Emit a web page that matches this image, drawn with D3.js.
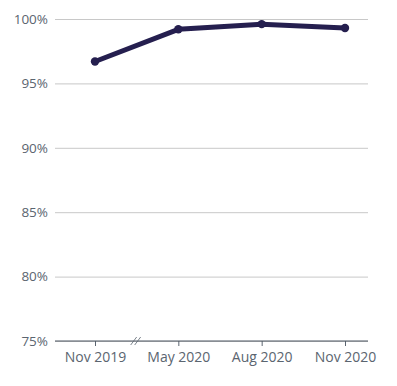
<!DOCTYPE html>
<html><head><meta charset="utf-8">
<script src="https://cdn.jsdelivr.net/npm/d3@7"></script>
<style>body{margin:0;background:#fff}svg{display:block}text{font-family:"Open Sans",sans-serif}</style>
</head><body><svg id="c" width="397" height="386"></svg>
<script>
const categories = ["Nov 2019","May 2020","Aug 2020","Nov 2020"];
const values = [96.7, 99.2, 99.6, 99.3];
const yTicks = [75, 80, 85, 90, 95, 100];

(function(){
const svg = d3.select("#c");
const mLeft = 55, mRight = 368, mTop = 19, mBottom = 341;
const x = d3.scalePoint().domain(categories).range([95, 345]);
const y = d3.scaleLinear().domain([75, 100]).range([mBottom, mTop]);

const yAxis = d3.axisLeft(y).tickValues(yTicks).tickFormat(d => d + "%").tickSize(-(mRight-mLeft)).tickPadding(7);
const gy = svg.append("g").attr("transform", `translate(${mLeft},0)`).call(yAxis);
gy.select(".domain").remove();
gy.selectAll(".tick line").attr("stroke", "#c8c8c8").attr("stroke-width", 1);
gy.selectAll(".tick text").attr("fill", "#5b6570").attr("font-size", 13.5);

const xAxis = d3.axisBottom(x).tickSize(5).tickPadding(6);
const gx = svg.append("g").attr("transform", `translate(0,${mBottom})`).call(xAxis);
gx.select(".domain").remove();
gx.selectAll(".tick line").attr("stroke", "#5b6570");
gx.selectAll(".tick text").attr("fill", "#5b6570").attr("font-size", 14);
svg.append("line").attr("x1", mLeft).attr("x2", mRight).attr("y1", mBottom).attr("y2", mBottom).attr("stroke", "#4a5460").attr("stroke-width", 1);

const bx = (x(categories[0]) + x(categories[1])) / 2 - 1;
[-2, 2].forEach(o => svg.append("line").attr("x1", bx + o - 3).attr("y1", mBottom + 4).attr("x2", bx + o + 3).attr("y2", mBottom - 4).attr("stroke", "#5b6570").attr("stroke-width", 0.8));

const data = categories.map((c, i) => ({c, v: values[i]}));
svg.append("path").datum(data)
  .attr("d", d3.line().x(d => x(d.c)).y(d => y(d.v)))
  .attr("fill", "none").attr("stroke", "#251f4f").attr("stroke-width", 5).attr("stroke-linejoin", "round");
svg.selectAll("circle.pt").data(data).enter().append("circle")
  .attr("cx", d => x(d.c)).attr("cy", d => y(d.v)).attr("r", 4.2).attr("fill", "#251f4f");
})();
</script></body></html>
